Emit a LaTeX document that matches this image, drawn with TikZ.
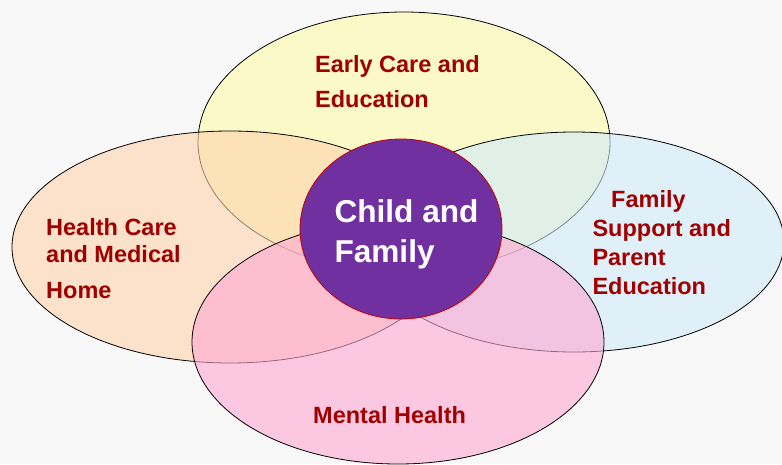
\documentclass[tikz,border=0pt]{standalone}
\usepackage{fontspec}
\setmainfont{Liberation Sans}
\usetikzlibrary{shapes.geometric}
\definecolor{bgc}{RGB}{248,248,248}
\definecolor{yel}{RGB}{255,251,168}
\definecolor{ora}{RGB}{255,211,173}
\definecolor{blu}{RGB}{208,235,251}
\definecolor{pnk}{RGB}{255,168,211}
\definecolor{purp}{RGB}{112,48,160}
\definecolor{txtred}{RGB}{160,0,0}
\definecolor{cborder}{RGB}{192,0,0}
\begin{document}
\begin{tikzpicture}[x=1pt,y=-1pt,
  zone/.style={ellipse, draw=black, line width=0.8pt, fill opacity=0.6, draw opacity=1, inner sep=0pt},
  lbl/.style={anchor=north west, inner sep=0pt, align=left, text=txtred, font=\bfseries\fontsize{23.5}{29}\selectfont}]
\fill[bgc] (0,0) rectangle (782,464);
\useasboundingbox (0,0) rectangle (782,464);
\clip (0,0) rectangle (782,464);
\node[zone, fill=yel, minimum width=412pt, minimum height=260pt] (ece) at (404,142) {};
\node[zone, fill=ora, minimum width=436pt, minimum height=232pt] (hcm) at (230,247) {};
\node[zone, fill=blu, minimum width=420pt, minimum height=220pt] (fsp) at (574,242) {};
\node[zone, fill=pnk, minimum width=412pt, minimum height=244pt] (mh) at (398,342) {};
\node[ellipse, fill=purp, draw=cborder, line width=0.8pt, inner sep=0pt, minimum width=202pt, minimum height=180pt] (cf) at (401,229) {};
\node[lbl, font=\bfseries\fontsize{23.5}{34.5}\selectfont] (ecet) at (315,55.4) {Early Care and\\Education};
\node[lbl, font=\bfseries\fontsize{23.5}{27}\selectfont] (hcmt) at (46,218.1) {Health Care\\and Medical\\[9pt]Home};
\node[lbl] (fspt) at (592.3,189.8) {\hspace*{18.7pt}Family\\Support and\\Parent\\Education};
\node[lbl] (mht) at (313,406.1) {Mental Health};
\node[lbl, text=white, font=\bfseries\fontsize{31.6}{40}\selectfont] (cft) at (334.3,199) {Child and\\Family};
\end{tikzpicture}
\end{document}
